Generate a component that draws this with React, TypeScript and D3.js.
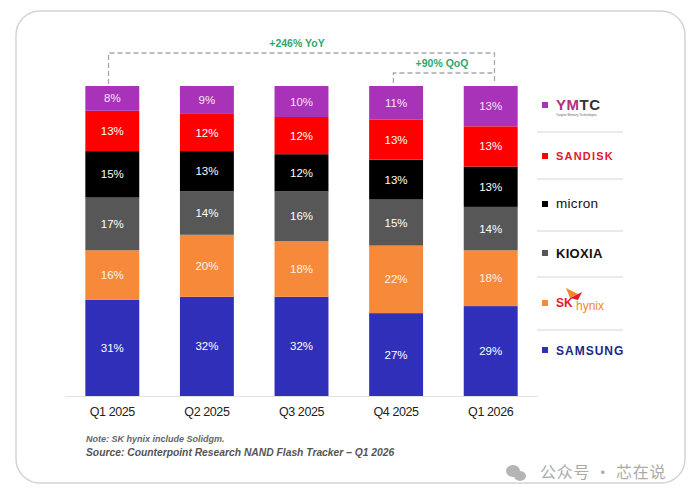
import React from "react";
import * as d3 from "d3";

const quarters = ["Q1 2025", "Q2 2025", "Q3 2025", "Q4 2025", "Q1 2026"];
const vendors = ["Samsung", "SK hynix", "Kioxia", "Micron", "Sandisk", "YMTC"];
const samsung = [31, 32, 32, 27, 29];
const skhynix = [16, 20, 18, 22, 18];
const kioxia = [17, 14, 16, 15, 14];
const micron = [15, 13, 12, 13, 13];
const sandisk = [13, 12, 12, 13, 13];
const ymtc = [8, 9, 10, 11, 13];
const colors = ["#2f2fb9", "#f7893b", "#575757", "#000000", "#fe0000", "#a833b8"];
const yoyLabel = "+246% YoY";
const qoqLabel = "+90% QoQ";
const note = "Note: SK hynix include Solidgm.";
const source = "Source: Counterpoint Research NAND Flash Tracker \u2013 Q1 2026";
const watermark = "公众号 · 芯在说";

const series = [samsung, skhynix, kioxia, micron, sandisk, ymtc];
const rows = quarters.map((q, i) => {
  const r: any = { q };
  vendors.forEach((v, j) => (r[v] = series[j][i]));
  return r;
});

export default function App() {
  const x = d3.scaleBand<string>().domain(quarters).range([65, 538]).paddingInner(0.43).paddingOuter(0.215);
  const y = d3.scaleLinear().domain([0, 1]).range([396, 86]);
  const stacked = d3.stack<any>().keys(vendors).offset(d3.stackOffsetExpand)(rows);
  const bw = x.bandwidth();

  const xL = (x(quarters[0]) as number) + bw * 0.43;
  const xR = (x(quarters[4]) as number) + bw * 0.57;
  const xQ = (x(quarters[3]) as number) + bw * 0.45;
  const yTop = y(1) - 2;

  const legendY = [105, 156, 204, 253, 303, 350];
  const sepY = [132, 179, 231, 277, 330];
  const legendOrder = [5, 4, 3, 2, 1, 0];
  const font = "'Liberation Sans', Arial, sans-serif";

  const renderLogo = (idx: number, cy: number) => {
    const lx = 556;
    switch (idx) {
      case 5:
        return (
          <g>
            <text x={lx} y={cy + 5} fontFamily={font} fontWeight={700} fontSize={15} fill="#333" letterSpacing={0.5}>
              <tspan fill="#b0307a">Y</tspan>
              <tspan fill="#b0307a">M</tspan>
              <tspan fill="#333">TC</tspan>
            </text>
            <text x={lx} y={cy + 11} fontFamily={font} fontSize={3} fill="#666">Yangtze Memory Technologies</text>
          </g>
        );
      case 4:
        return (
          <text x={lx} y={cy + 4} fontFamily={font} fontWeight={700} fontSize={11} fill="#e3192c" letterSpacing={1.2}>SANDISK</text>
        );
      case 3:
        return (
          <text x={lx} y={cy + 4} fontFamily={font} fontWeight={400} fontSize={13.5} fill="#111" letterSpacing={0.3}>micron</text>
        );
      case 2:
        return (
          <text x={lx} y={cy + 5} fontFamily={font} fontWeight={900} fontSize={13} fill="#111" letterSpacing={0.3}>KIOXIA</text>
        );
      case 1:
        return (
          <g>
            <path d={`M${lx + 10},${cy - 15} L${lx + 22},${cy - 9} L${lx + 14},${cy - 5} Z`} fill="#f08a24" />
            <path d={`M${lx + 14},${cy - 5} L${lx + 26},${cy - 11} L${lx + 22},${cy - 3} Z`} fill="#e3192c" />
            <text x={lx} y={cy + 4} fontFamily={font} fontWeight={900} fontSize={12} fill="#e3192c">SK</text>
            <text x={lx + 20} y={cy + 7} fontFamily={font} fontSize={12} fill="#f08a24">hynix</text>
          </g>
        );
      default:
        return (
          <text x={lx} y={cy + 5} fontFamily={font} fontWeight={900} fontSize={12} fill="#1a2a8a" letterSpacing={1}>SAMSUNG</text>
        );
    }
  };

  return (
    <div style={{ position: "absolute", left: 0, top: 0, width: 700, height: 498, background: "#fff" }}>
      <svg width={700} height={498} viewBox="0 0 700 498">
        <rect x={0} y={0} width={700} height={498} fill="#fff" />
        <rect x={16} y={11} width={669} height={472} rx={24} fill="#fff" stroke="#d4d4d4" strokeWidth={1.5} />

        <line x1={65} x2={538} y1={396.5} y2={396.5} stroke="#e2e2e2" strokeWidth={1.2} />

        {stacked.map((s, si) => (
          <g key={vendors[si]}>
            {s.map((d, di) => {
              const x0 = x(quarters[di]) as number;
              const y0 = y(d[1]);
              const y1 = y(d[0]);
              return (
                <g key={di}>
                  <rect x={x0} y={y0} width={bw} height={y1 - y0} fill={colors[si]} />
                  <text
                    x={x0 + bw / 2}
                    y={(y0 + y1) / 2 + 4}
                    textAnchor="middle"
                    fontFamily={font}
                    fontSize={11.5}
                    fill={si === 5 ? "#f6e6f8" : si === 1 ? "#fff3e8" : "#ffffff"}
                  >
                    {`${series[si][di]}%`}
                  </text>
                </g>
              );
            })}
          </g>
        ))}

        {quarters.map((q) => (
          <text key={q} x={(x(q) as number) + bw / 2} y={416} textAnchor="middle" fontFamily={font} fontSize={12.5} fill="#222" letterSpacing={-0.4}>
            {q}
          </text>
        ))}

        <path
          d={`M${xL},${yTop} V53 H${xR} V${yTop}`}
          fill="none"
          stroke="#a8a8a8"
          strokeWidth={1.3}
          strokeDasharray="5,3"
        />
        <path d={`M${xQ},${yTop - 1} V73 H${xR}`} fill="none" stroke="#a8a8a8" strokeWidth={1.3} strokeDasharray="5,3" />
        <text x={297} y={47} textAnchor="middle" fontFamily={font} fontWeight={700} fontSize={10.5} fill="#2ea86b">{yoyLabel}</text>
        <text x={442} y={67} textAnchor="middle" fontFamily={font} fontWeight={700} fontSize={10.5} fill="#2ea86b">{qoqLabel}</text>

        {legendOrder.map((vi, k) => (
          <g key={vendors[vi]}>
            <rect x={542} y={legendY[k] - 3} width={6} height={6} fill={colors[vi]} />
            {renderLogo(vi, legendY[k])}
          </g>
        ))}
        {sepY.map((sy) => (
          <line key={sy} x1={537} x2={623} y1={sy} y2={sy} stroke="#d6d6d6" strokeWidth={1} />
        ))}

        <text x={86} y={442} fontFamily={font} fontStyle="italic" fontWeight={700} fontSize={9} fill="#666">{note}</text>
        <text x={86} y={456} fontFamily={font} fontStyle="italic" fontWeight={700} fontSize={10.3} fill="#555">{source}</text>

        <g fill="#b5b5b5">
          <ellipse cx={513} cy={471} rx={7} ry={6} />
          <ellipse cx={520} cy={476} rx={6} ry={5} />
        </g>
        <text x={540} y={478} fontFamily="'Noto Sans CJK SC', sans-serif" fontSize={16} fill="#aaaaaa" letterSpacing={0.8}>{watermark}</text>
      </svg>
    </div>
  );
}
